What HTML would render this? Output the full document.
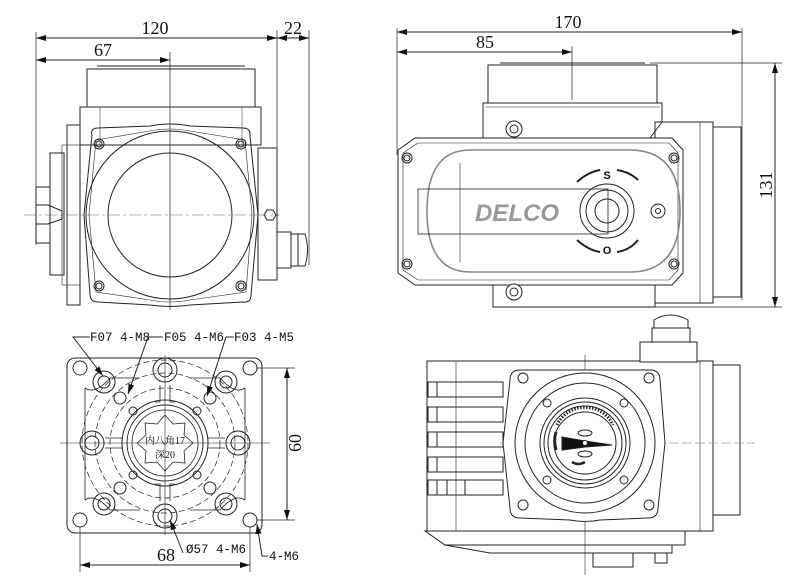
<!DOCTYPE html>
<html><head><meta charset="utf-8"><style>
html,body{margin:0;padding:0;background:#fff;width:800px;height:579px;overflow:hidden}
svg{display:block}
text{font-family:"Liberation Serif","Noto Serif CJK SC",serif;fill:#111}
</style></head><body>
<svg width="800" height="579" viewBox="0 0 800 579" xmlns="http://www.w3.org/2000/svg">
<defs>
<marker id="a" viewBox="0 0 10 6" refX="10" refY="3" markerWidth="10" markerHeight="6" orient="auto-start-reverse" markerUnits="userSpaceOnUse"><path d="M0,0L10,3L0,6z" fill="#111"/></marker>
</defs>
<g fill="none" stroke="#222" stroke-width="1">
<!-- ===== TOP LEFT VIEW ===== -->
<line x1="36" y1="32" x2="36" y2="245" stroke-width="0.7"/>
<line x1="277" y1="30" x2="277" y2="265" stroke-width="0.7"/>
<line x1="309" y1="30" x2="309" y2="265" stroke-width="0.7"/>
<line x1="36" y1="38" x2="277" y2="38" marker-start="url(#a)" marker-end="url(#a)"/>
<line x1="277" y1="38" x2="309" y2="38" marker-start="url(#a)" marker-end="url(#a)"/>
<line x1="36" y1="60" x2="170" y2="60" marker-start="url(#a)" marker-end="url(#a)"/>
<line x1="170" y1="52" x2="170" y2="310" stroke-width="0.7"/>
<line x1="24" y1="215" x2="280" y2="215" stroke="#999" stroke-dasharray="12,3,3,3" stroke-width="0.7"/>
<line x1="97" y1="66" x2="245" y2="66"/>
<rect x="87" y="69" width="168" height="38"/>
<rect x="80" y="107" width="181" height="38"/>
<line x1="100" y1="107" x2="100" y2="145" stroke-width="0.5"/>
<line x1="242" y1="107" x2="242" y2="145" stroke-width="0.5"/>
<rect x="67" y="125" width="13" height="180"/>
<rect x="62" y="145" width="18" height="140" stroke-width="0.6"/>
<rect x="50" y="153" width="14" height="122"/>
<path d="M36,187 H50 V243 H36 Z"/>
<path d="M36,205 H48 L62,211 V219 L48,224 H36"/>
<rect x="258" y="148" width="19" height="132"/>
<polygon points="264,215 267,210 273,210 276,215 273,220 267,220"/>
<rect x="277" y="232" width="14" height="36"/>
<path d="M291,234 H305 Q310,250 305,266 H291 Z"/>
<line x1="298" y1="234" x2="298" y2="266"/>
<path d="M92,135 Q90,128 98,128 L150,126 Q170,122 190,126 L243,128 Q251,128 250,136 L258,215 L251,295 Q251,303 243,302 L190,305 Q170,308 150,305 L98,302 Q90,302 90,294 L84,215 Z"/>
<path d="M96,140 L150,131 Q170,127 190,131 L245,140 L252,215 L246,292 L190,300 Q170,304 150,300 L96,292 L89,215 Z" stroke-width="0.6"/>
<circle cx="170" cy="215" r="84"/>
<circle cx="170" cy="215" r="62"/>
<circle cx="99" cy="144" r="5"/><circle cx="99" cy="144" r="3"/>
<circle cx="241" cy="144" r="5"/><circle cx="241" cy="144" r="3"/>
<circle cx="99" cy="286" r="5"/><circle cx="99" cy="286" r="3"/>
<circle cx="241" cy="286" r="5"/><circle cx="241" cy="286" r="3"/>

<!-- ===== TOP RIGHT VIEW ===== -->
<line x1="397" y1="28" x2="397" y2="155" stroke-width="0.7"/>
<line x1="742" y1="28" x2="742" y2="300" stroke-width="0.7"/>
<line x1="397" y1="32" x2="742" y2="32" marker-start="url(#a)" marker-end="url(#a)"/>
<line x1="397" y1="52" x2="572" y2="52" marker-start="url(#a)" marker-end="url(#a)"/>
<line x1="572" y1="46" x2="572" y2="100" stroke-width="0.7"/>
<line x1="650" y1="63" x2="782" y2="63" stroke-width="0.7"/>
<line x1="493" y1="307" x2="782" y2="307" stroke-width="0.7"/>
<line x1="775" y1="63" x2="775" y2="307" marker-start="url(#a)" marker-end="url(#a)"/>
<line x1="500" y1="63" x2="645" y2="63"/>
<rect x="488" y="65" width="169" height="38"/>
<path d="M483,103 H662 V122 L650,138 H483 Z"/>
<line x1="485" y1="107" x2="660" y2="107" stroke-width="0.6"/>
<rect x="655" y="122" width="58" height="181"/>
<rect x="713" y="127" width="28" height="170"/>
<line x1="700" y1="122" x2="700" y2="303" stroke-width="0.6"/>
<rect x="493" y="285" width="162" height="22"/>
<path d="M415,138 H672 L683,150 V273 L672,285 H415 L398,273 V150 Z" fill="#fff"/>
<path d="M418,143 H669 L678,153 V270 L669,280 H418 L403,270 V153 Z" stroke-width="0.6"/>
<path d="M470,150 H630 Q680,150 680,211 Q680,272 630,272 H470 Q427,272 427,211 Q427,150 470,150 Z" stroke="#888" stroke-width="1.6"/>
<line x1="460" y1="163" x2="460" y2="262" stroke-width="0.6"/>
<rect x="418" y="189" width="190" height="45" stroke-width="0.8"/>
<circle cx="607" cy="211" r="27"/>
<circle cx="607" cy="211" r="21"/>
<circle cx="607" cy="211" r="12"/>
<circle cx="658" cy="211" r="7"/><circle cx="658" cy="211" r="2.5"/>
<path d="M577,182 Q588,172 600,170" stroke-width="2"/>
<path d="M617,170 Q630,172 638,180" stroke-width="2"/>
<path d="M577,240 Q588,250 600,252" stroke-width="2"/>
<path d="M617,252 Q630,250 638,240" stroke-width="2"/>
<circle cx="407" cy="158" r="5"/><circle cx="407" cy="158" r="3"/>
<circle cx="674" cy="158" r="5"/><circle cx="674" cy="158" r="3"/>
<circle cx="407" cy="264" r="5"/><circle cx="407" cy="264" r="3"/>
<circle cx="674" cy="264" r="5"/><circle cx="674" cy="264" r="3"/>
<circle cx="514" cy="129" r="8" fill="#fff"/><circle cx="514" cy="129" r="4"/>
<circle cx="514" cy="292" r="8" fill="#fff"/><circle cx="514" cy="292" r="4"/>

<!-- ===== BOTTOM LEFT VIEW ===== -->
<rect x="67" y="358" width="195" height="175" rx="8"/>
<line x1="60" y1="443" x2="270" y2="443" stroke-width="0.6"/>
<line x1="165" y1="355" x2="165" y2="535" stroke-width="0.6"/>
<path d="M85,388 V500 M245,388 V500 M110,378 H140 M190,378 H220 M110,510 H140 M190,510 H220" stroke-width="0.8"/>
<path d="M85,388 Q95,395 110,378 M245,388 Q235,395 220,378 M85,500 Q95,493 110,510 M245,500 Q235,493 220,510" stroke-width="0.8"/>
<path d="M160,385 V402 H155 M170,385 V402 H175 M160,501 V484 H155 M170,501 V484 H175" stroke-width="0.8"/>
<path d="M105,438 H122 M105,448 H122 M208,438 H225 M208,448 H225" stroke-width="0.8"/>
<circle cx="165" cy="443" r="83" stroke-dasharray="6,3" stroke-width="0.7"/>
<circle cx="165" cy="443" r="70" stroke-dasharray="6,3" stroke-width="0.7"/>
<circle cx="165" cy="443" r="55" stroke-dasharray="6,3" stroke-width="0.7"/>
<circle cx="165" cy="443" r="43"/>
<circle cx="165" cy="443" r="38"/>
<circle cx="165" cy="443" r="33" stroke-width="0.8"/>
<polygon points="165,415 173,424 185,423 184,435 193,443 184,451 185,463 173,462 165,471 157,462 145,463 146,451 137,443 146,435 145,423 157,424" stroke-width="0.8"/>
<g>
<circle cx="80" cy="368" r="7"/><circle cx="250" cy="368" r="7"/>
<circle cx="80" cy="520" r="7"/><circle cx="250" cy="520" r="7"/>
<circle cx="165" cy="370" r="7"/><circle cx="165" cy="516" r="7"/>
<circle cx="92" cy="443" r="7"/><circle cx="238" cy="443" r="7"/>
<circle cx="104" cy="382" r="6"/><circle cx="226" cy="382" r="6"/>
<circle cx="104" cy="504" r="6"/><circle cx="226" cy="504" r="6"/>
<circle cx="120" cy="398" r="6"/><circle cx="210" cy="398" r="6"/>
<circle cx="120" cy="488" r="6"/><circle cx="210" cy="488" r="6"/>
<circle cx="133" cy="411" r="4"/><circle cx="197" cy="411" r="4"/>
<circle cx="133" cy="475" r="4"/><circle cx="197" cy="475" r="4"/>
<circle cx="165" cy="370" r="12"/><circle cx="165" cy="516" r="12"/>
<circle cx="92" cy="443" r="12"/><circle cx="238" cy="443" r="12"/>
<circle cx="104" cy="382" r="11"/><circle cx="226" cy="382" r="11"/>
<circle cx="104" cy="504" r="11"/><circle cx="226" cy="504" r="11"/>
</g>
<line x1="257" y1="368" x2="295" y2="368" stroke-width="0.7"/>
<line x1="257" y1="520" x2="295" y2="520" stroke-width="0.7"/>
<line x1="287" y1="368" x2="287" y2="520" marker-start="url(#a)" marker-end="url(#a)"/>
<line x1="80" y1="527" x2="80" y2="572" stroke-width="0.7"/>
<line x1="250" y1="527" x2="250" y2="572" stroke-width="0.7"/>
<line x1="80" y1="565" x2="250" y2="565" marker-start="url(#a)" marker-end="url(#a)"/>
<!-- leaders -->
<path d="M90,337 H73 L103,376" marker-end="url(#a)"/>
<path d="M163,337 H148 L128,394" marker-end="url(#a)"/>
<path d="M234,337 H226 L207,396" marker-end="url(#a)"/>
<path d="M183,553 L170,520" marker-end="url(#a)"/>
<path d="M268,556 H262 L257,524" marker-end="url(#a)"/>

<!-- ===== BOTTOM RIGHT VIEW ===== -->
<rect x="427" y="361" width="286" height="170" fill="#fff"/>
<rect x="713" y="365" width="27" height="150"/>
<line x1="700" y1="361" x2="700" y2="531" stroke-width="0.6"/>
<line x1="456" y1="361" x2="456" y2="531" stroke-width="0.6"/>
<rect x="428" y="382" width="75" height="15"/><line x1="437" y1="382" x2="437" y2="397"/>
<rect x="428" y="407" width="75" height="15"/><line x1="437" y1="407" x2="437" y2="422"/>
<rect x="428" y="432" width="75" height="15"/><line x1="437" y1="432" x2="437" y2="447"/>
<rect x="428" y="457" width="75" height="15"/><line x1="437" y1="457" x2="437" y2="472"/>
<rect x="428" y="480" width="75" height="15"/><line x1="437" y1="480" x2="437" y2="495"/><line x1="447" y1="480" x2="447" y2="495"/><line x1="465" y1="480" x2="465" y2="495"/>
<rect x="640" y="342" width="57" height="20" fill="#fff"/>
<rect x="652" y="328" width="38" height="14"/>
<path d="M654,328 V320 Q670,310 688,320 V328"/>
<path d="M425,531 H685 V545 H445 Z"/>
<path d="M445,545 L490,553 H672 V545"/>
<rect x="593" y="553" width="40" height="14"/>
<rect x="655" y="553" width="12" height="10"/>
<line x1="585" y1="355" x2="585" y2="575" stroke-width="0.6"/>
<line x1="500" y1="443" x2="755" y2="443" stroke="#999" stroke-dasharray="10,3" stroke-width="0.7"/>
<path d="M520,370 H650 Q660,370 660,380 L665,443 L658,508 Q658,518 648,518 L600,520 Q585,523 570,520 L520,518 Q510,518 510,508 L503,443 L510,380 Q510,370 520,370 Z" fill="#fff"/>
<circle cx="585" cy="443" r="70"/>
<circle cx="585" cy="443" r="60"/>
<circle cx="585" cy="443" r="45"/>
<circle cx="585" cy="443" r="41"/>
<circle cx="585" cy="443" r="37"/>
<circle cx="585" cy="443" r="31"/>
<circle cx="523" cy="378" r="5"/><circle cx="649" cy="378" r="5"/>
<circle cx="523" cy="505" r="5"/><circle cx="649" cy="505" r="5"/>
<circle cx="547" cy="403" r="4"/><circle cx="624" cy="403" r="4"/>
<circle cx="547" cy="480" r="4"/><circle cx="624" cy="480" r="4"/>
<path d="M557,425 A31,31 0 0,1 613,425" stroke-width="3" stroke-dasharray="1.5,1.5"/>
<path d="M556,450 A31,31 0 0,1 556,432" stroke-width="3"/>
<polygon points="562,437 585,441 612,445 585,447 562,450" fill="#111"/>
<ellipse cx="585" cy="433" rx="7" ry="3"/>
<ellipse cx="585" cy="454" rx="7" ry="3"/>
<circle cx="585" cy="443" r="2.5" fill="#fff"/>
<path d="M572,462 Q578,466 585,462" stroke-width="2.5"/>
</g>
<!-- text -->
<text x="155" y="34" font-size="18" text-anchor="middle">120</text>
<text x="293" y="34" font-size="18" text-anchor="middle">22</text>
<text x="103" y="56" font-size="18" text-anchor="middle">67</text>
<text x="568" y="28" font-size="18" text-anchor="middle">170</text>
<text x="485" y="48" font-size="18" text-anchor="middle">85</text>
<text x="772" y="185" font-size="18" text-anchor="middle" transform="rotate(-90 772 185)">131</text>
<text x="517" y="221" font-size="24" font-weight="bold" font-style="italic" text-anchor="middle" style="font-family:'Liberation Sans',sans-serif;fill:#999">DELCO</text>
<text x="607" y="179" font-size="11" font-weight="bold" text-anchor="middle" style="font-family:'Liberation Sans',sans-serif">S</text>
<text x="607" y="254" font-size="11" font-weight="bold" text-anchor="middle" style="font-family:'Liberation Sans',sans-serif">O</text>
<g font-size="12.5">
<text x="90" y="341" style="font-family:'Liberation Mono',monospace">F07 4-M8</text>
<text x="164" y="341" style="font-family:'Liberation Mono',monospace">F05 4-M6</text>
<text x="234" y="341" style="font-family:'Liberation Mono',monospace">F03 4-M5</text>
<text x="186" y="553" style="font-family:'Liberation Mono',monospace">Ø57 4-M6</text>
<text x="269" y="560" style="font-family:'Liberation Mono',monospace">4-M6</text>
</g>
<text x="165" y="444" font-size="10" text-anchor="middle">内八角17</text>
<text x="165" y="458" font-size="10" text-anchor="middle">深20</text>
<text x="301" y="443" font-size="18" text-anchor="middle" transform="rotate(-90 301 443)">60</text>
<text x="166" y="561" font-size="18" text-anchor="middle">68</text>
</svg>
</body></html>
